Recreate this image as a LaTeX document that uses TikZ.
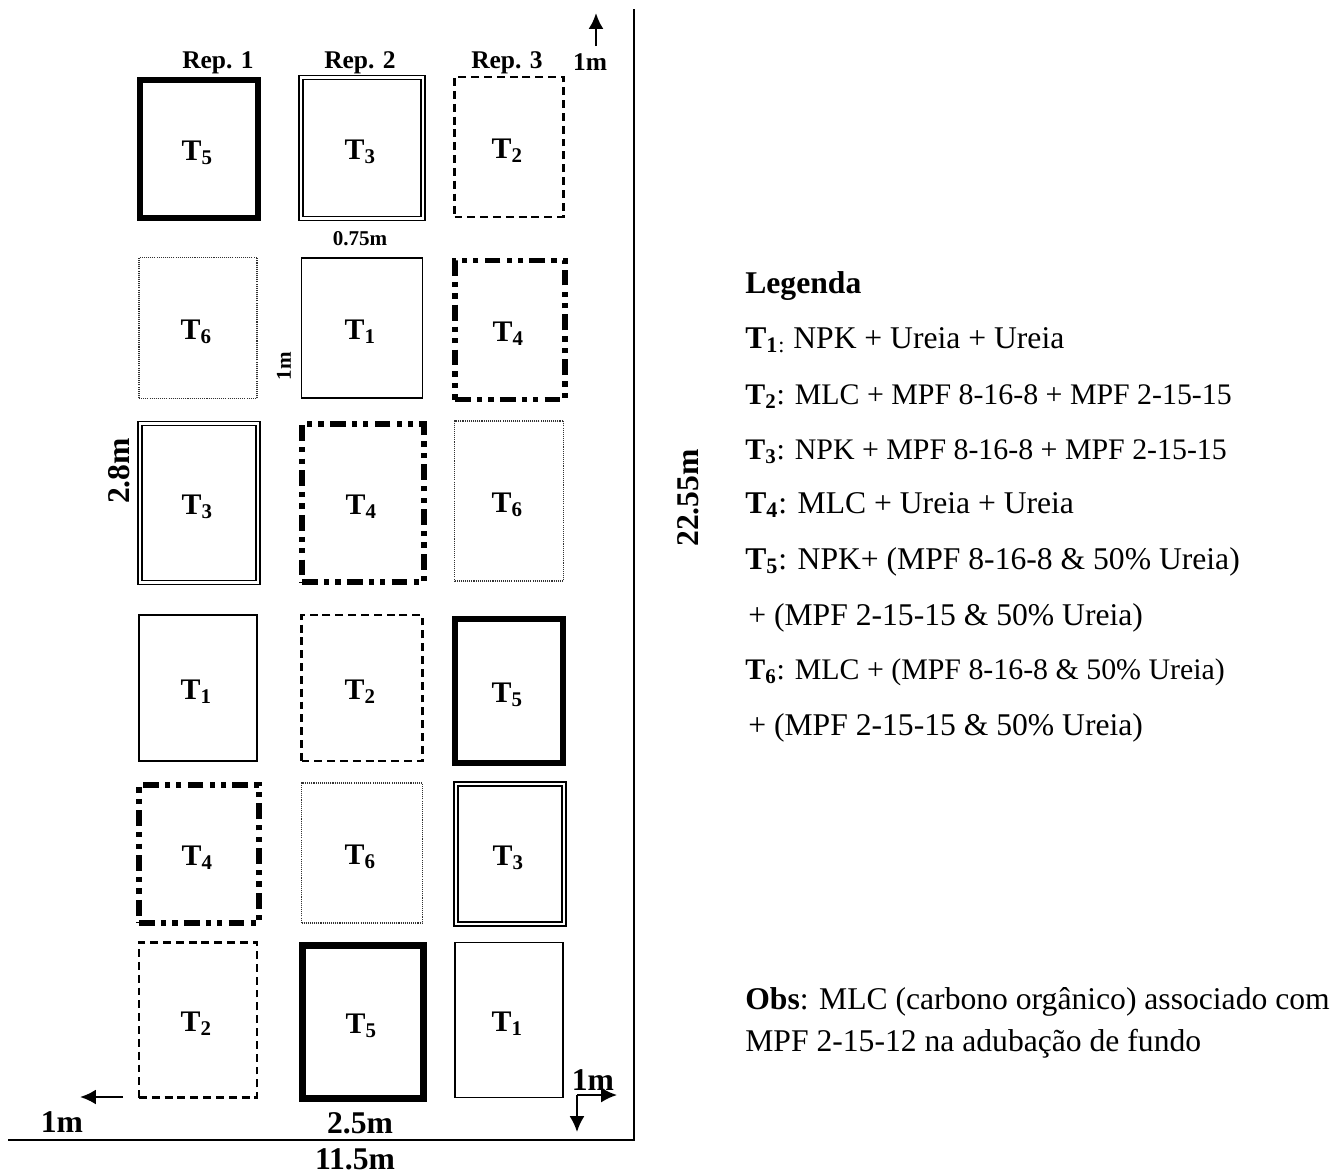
\documentclass[tikz,border=0pt]{standalone}
\usepackage{fontspec}
\setmainfont{Liberation Serif}
\usepackage{tikz}
\usetikzlibrary{arrows.meta}
\newcommand{\trt}[1]{\textbf{T\textsubscript{#1}}}
\tikzset{
  plotplain/.style={draw,line width=1.1pt},
  plotdash/.style={draw,line width=1.3pt,dash pattern=on 4.5pt off 2.8pt},
  plotdouble/.style={draw,line width=0.8pt,double,double distance=1.6pt},
  plotdashdot/.style={draw,line width=2.9pt,dash pattern=on 9pt off 3.5pt on 3pt off 3.5pt on 3pt off 3.5pt},
  plotheavy/.style={draw,line width=3.5pt},
  plotdots/.style={draw=black!80,line width=0.6pt,dash pattern=on 0.6pt off 0.6pt},
  dimbig/.style={font=\fontsize{18}{20}\selectfont\bfseries},
  dimmid/.style={font=\fontsize{14.5}{16}\selectfont\bfseries},
  dimsmall/.style={font=\fontsize{12}{14}\selectfont\bfseries},
  legendline/.style={anchor=base west,inner sep=0pt,font=\fontsize{18}{20}\selectfont},
  legendsmall/.style={legendline,font=\fontsize{17}{20}\selectfont},
}
\begin{document}
\begin{tikzpicture}[>={Latex[length=9pt,width=8.5pt]},x=0.02cm,y=-0.02cm]
  \useasboundingbox (0,0) rectangle (1339,1174);
  % field borders
  \coordinate (axistop) at (634,9);
  \coordinate (axiscorner) at (634,1140);
  \coordinate (axisleft) at (8,1140);
  \draw[line width=1.2pt] (axistop) -- (axiscorner) -- (axisleft);
  % plots, one row after the other
  \foreach \nm/\kind/\cx/\cy/\bw/\bh/\lab in {
    ra/plotheavy/199/149/118/138/5, rb/plotdouble/362/148/122/141/3, rc/plotdash/509/147/109/140/2,
    rd/plotdots/198/328/118/141/6, re/plotplain/362/328/121/140/1, rf/plotdashdot/510/330/110/139/4,
    rg/plotdouble/199/503/118/159/3, rh/plotdashdot/363/503/122/158/4, ri/plotdots/509/501/109/160/6,
    rj/plotplain/198/688/118/146/1, rk/plotdash/362/688/121/146/2, rl/plotheavy/509/691/108/144/5,
    rm/plotdashdot/199/854/120/138/4, rn/plotdots/362/853/121/140/6, ro/plotdouble/510/854/108/140/3,
    rp/plotdash/198/1020/118/155/2, rq/plotheavy/363/1022/121/153/5, rr/plotplain/509/1020/108/155/1} {
    \node[\kind,minimum width=\bw*0.02cm,minimum height=\bh*0.02cm,inner sep=0pt,
      font=\fontsize{17}{18}\selectfont] (\nm) at (\cx,\cy) {\raisebox{-6.5pt}[0pt][0pt]{\trt{\lab}\hspace{2pt}}};
  }
  % repetition labels
  \node[dimmid] (repone) at (218,63) {Rep. 1};
  \node[dimmid] (reptwo) at (360,63) {Rep. 2};
  \node[dimmid] (repthree) at (507,63) {Rep. 3};
  % dimensions
  \node[dimsmall] (gapw) at (360,239) {0.75m};
  \node[dimsmall,rotate=90] (gaph) at (284,366) {1m};
  \node[dimbig,rotate=90] (plotlen) at (119,471) {2.8m};
  \node[dimbig,rotate=90] (totallen) at (688,498) {22.55m};
  \node[dimbig] (plotwid) at (360,1123) {2.5m};
  \node[dimbig] (totalwid) at (355,1159) {11.5m};
  % border arrows
  \node[dimmid] (topm) at (590,62) {1m};
  \node[dimbig] (leftm) at (62,1122) {1m};
  \node[dimbig] (cornerm) at (593,1080) {1m};
  \coordinate (topa) at (596,46);
  \coordinate (topb) at (596,13);
  \draw[->,line width=1.4pt] (topa) -- (topb);
  \coordinate (lefta) at (123,1097);
  \coordinate (leftb) at (80,1097);
  \draw[->,line width=1.4pt] (lefta) -- (leftb);
  \coordinate (corner) at (577,1095);
  \coordinate (cornerr) at (617,1095);
  \coordinate (cornerd) at (577,1132);
  \draw[->,line width=1.2pt] (corner) -- (cornerr);
  \draw[->,line width=1.2pt] (corner) -- (cornerd);
  % legend
  \node[legendline] (legtitle) at (745,293) {\textbf{Legenda}};
  \node[legendline] (legone) at (745,348) {\trt{1}\textsubscript{:} NPK + Ureia + Ureia};
  \node[legendsmall] (legtwo) at (745,404) {\trt{2}: MLC + MPF 8-16-8 + MPF 2-15-15};
  \node[legendsmall] (legthree) at (745,459) {\trt{3}: NPK + MPF 8-16-8 + MPF 2-15-15};
  \node[legendline] (legfour) at (745,513) {\trt{4}: MLC + Ureia + Ureia};
  \node[legendline] (legfive) at (745,569) {\trt{5}: NPK+ (MPF 8-16-8 \& 50\% Ureia)};
  \node[legendline] (legfiveb) at (748,625) {+ (MPF 2-15-15 \& 50\% Ureia)};
  \node[legendsmall] (legsix) at (745,679) {\trt{6}: MLC + (MPF 8-16-8 \& 50\% Ureia)};
  \node[legendline] (legsixb) at (748,735) {+ (MPF 2-15-15 \& 50\% Ureia)};
  \node[legendline] (obsa) at (745,1009) {\textbf{Obs}: MLC (carbono orgânico) associado com};
  \node[legendline] (obsb) at (745,1051) {MPF 2-15-12 na adubação de fundo};
\end{tikzpicture}
\end{document}
